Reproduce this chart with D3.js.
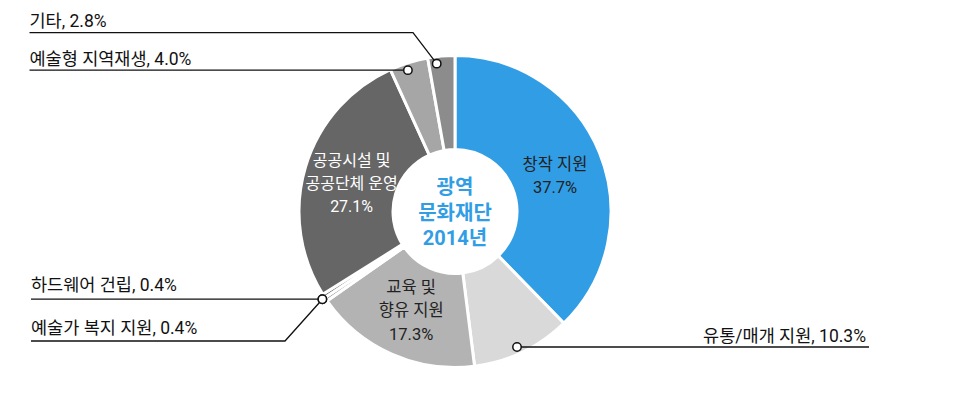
<!DOCTYPE html>
<html><head><meta charset="utf-8">
<script src="https://cdn.jsdelivr.net/npm/d3@7"></script>
<style>
html,body{margin:0;padding:0;background:#fff;}
svg{display:block;font-family:Roboto,"Noto Sans CJK KR","Noto Sans",sans-serif;}
</style></head>
<body>
<svg id="chart" width="962" height="404"></svg>
<script>
// ---- data ----
const categories = ["창작 지원","유통/매개 지원","교육 및 향유 지원","예술가 복지 지원","하드웨어 건립","공공시설 및 공공단체 운영","예술형 지역재생","기타"];
const values = [37.7, 10.3, 17.3, 0.4, 0.4, 27.1, 4.0, 2.8];
const colors = ["#319de5","#d9d9d9","#b3b3b3","#8a8a8a","#5a5a5a","#666666","#a6a6a6","#8c8c8c"];
const innerLabels = [["창작 지원"],null,["교육 및","향유 지원"],null,null,["공공시설 및","공공단체 운영"],null,null];
const centerTitle = ["광역","문화재단","2014년"];

// ---- layout ----
const svg = d3.select("#chart");
const cx = 455, cy = 211.5, R = 156, r0 = 62;
const g = svg.append("g").attr("transform", `translate(${cx},${cy})`);
const innerDy = [10.5, 0, 6, 0, 0, 8.5, 0, 0];
const innerSize = [16.5, 0, 16.5, 0, 0, 16, 0, 0];

const pie = d3.pie().sort(null).value(d => d)(values);
const arc = d3.arc().innerRadius(r0).outerRadius(R);
const labelArc = d3.arc().innerRadius(108).outerRadius(108);
const fmt = d3.format(".1f");

g.selectAll("path.slice").data(pie).join("path")
  .attr("class","slice")
  .attr("d", arc)
  .attr("fill", (d,i) => colors[i])
  .attr("stroke", "#fff")
  .attr("stroke-width", 3)
  .attr("stroke-linejoin","miter");

// inner labels
pie.forEach((d,i) => {
  if (!innerLabels[i]) return;
  const [x,y] = labelArc.centroid(d);
  const lines = innerLabels[i].concat([fmt(values[i]) + "%"]);
  const lh = 23.3;
  const t = g.append("text").attr("text-anchor","middle")
    .attr("font-size", innerSize[i])
    .attr("fill", i === 5 ? "#ffffff" : "#222222");
  lines.forEach((s,k) => {
    t.append("tspan").attr("x", x)
     .attr("y", y + (k - (lines.length-1)/2) * lh + innerDy[i])
     .text(s);
  });
});

// center label
const ct = g.append("text").attr("text-anchor","middle")
  .attr("font-size", 20).attr("font-weight","bold").attr("fill","#319de5");
centerTitle.forEach((s,k) => {
  ct.append("tspan").attr("x", 0).attr("y", (k-1)*25.5 + 8).text(s);
});

// outer leader labels
const angPt = (a, rad) => [Math.sin(a)*rad, -Math.cos(a)*rad];
const mid = d => (d.startAngle + d.endAngle)/2;
const outer = [
  {i:7, dot: angPt(mid(pie[7]) - 0.035, 149), path: p => [p, [413-cx, 32.7-cy], [29.5-cx, 32.7-cy]], tx:29.5, ty:27, anchor:"start"},
  {i:6, dot: angPt(mid(pie[6]) - 0.02, 149), path: p => [p, [29.5-cx, p[1]]], tx:29.5, ty:64.5, anchor:"start"},
  {i:1, dot: angPt(mid(pie[1]) + 0.02, 149), path: p => [p, [869-cx, p[1]]], tx:866, ty:342, anchor:"end"},
  {i:4, dot: angPt(pie[4].startAngle, 159), path: p => [p, [31-cx, p[1]]], tx:31, ty:290.5, anchor:"start"},
  {i:3, dot: angPt(pie[4].startAngle, 159), path: p => [p, [285-cx, 341-cy], [31-cx, 341-cy]], tx:31, ty:334, anchor:"start"}
];
const line = d3.line();
outer.forEach(o => {
  g.append("path").attr("d", line(o.path(o.dot)))
    .attr("fill","none").attr("stroke","#111").attr("stroke-width",1.3);
});
outer.forEach(o => {
  g.append("circle").attr("cx", o.dot[0]).attr("cy", o.dot[1]).attr("r", 4.2)
    .attr("fill","#fff").attr("stroke","#111").attr("stroke-width",1.5);
  svg.append("text").attr("x", o.tx).attr("y", o.ty)
    .attr("text-anchor", o.anchor).attr("font-size", 17.5).attr("fill","#111")
    .text(`${categories[o.i]}, ${fmt(values[o.i])}%`);
});
</script>
</body></html>
